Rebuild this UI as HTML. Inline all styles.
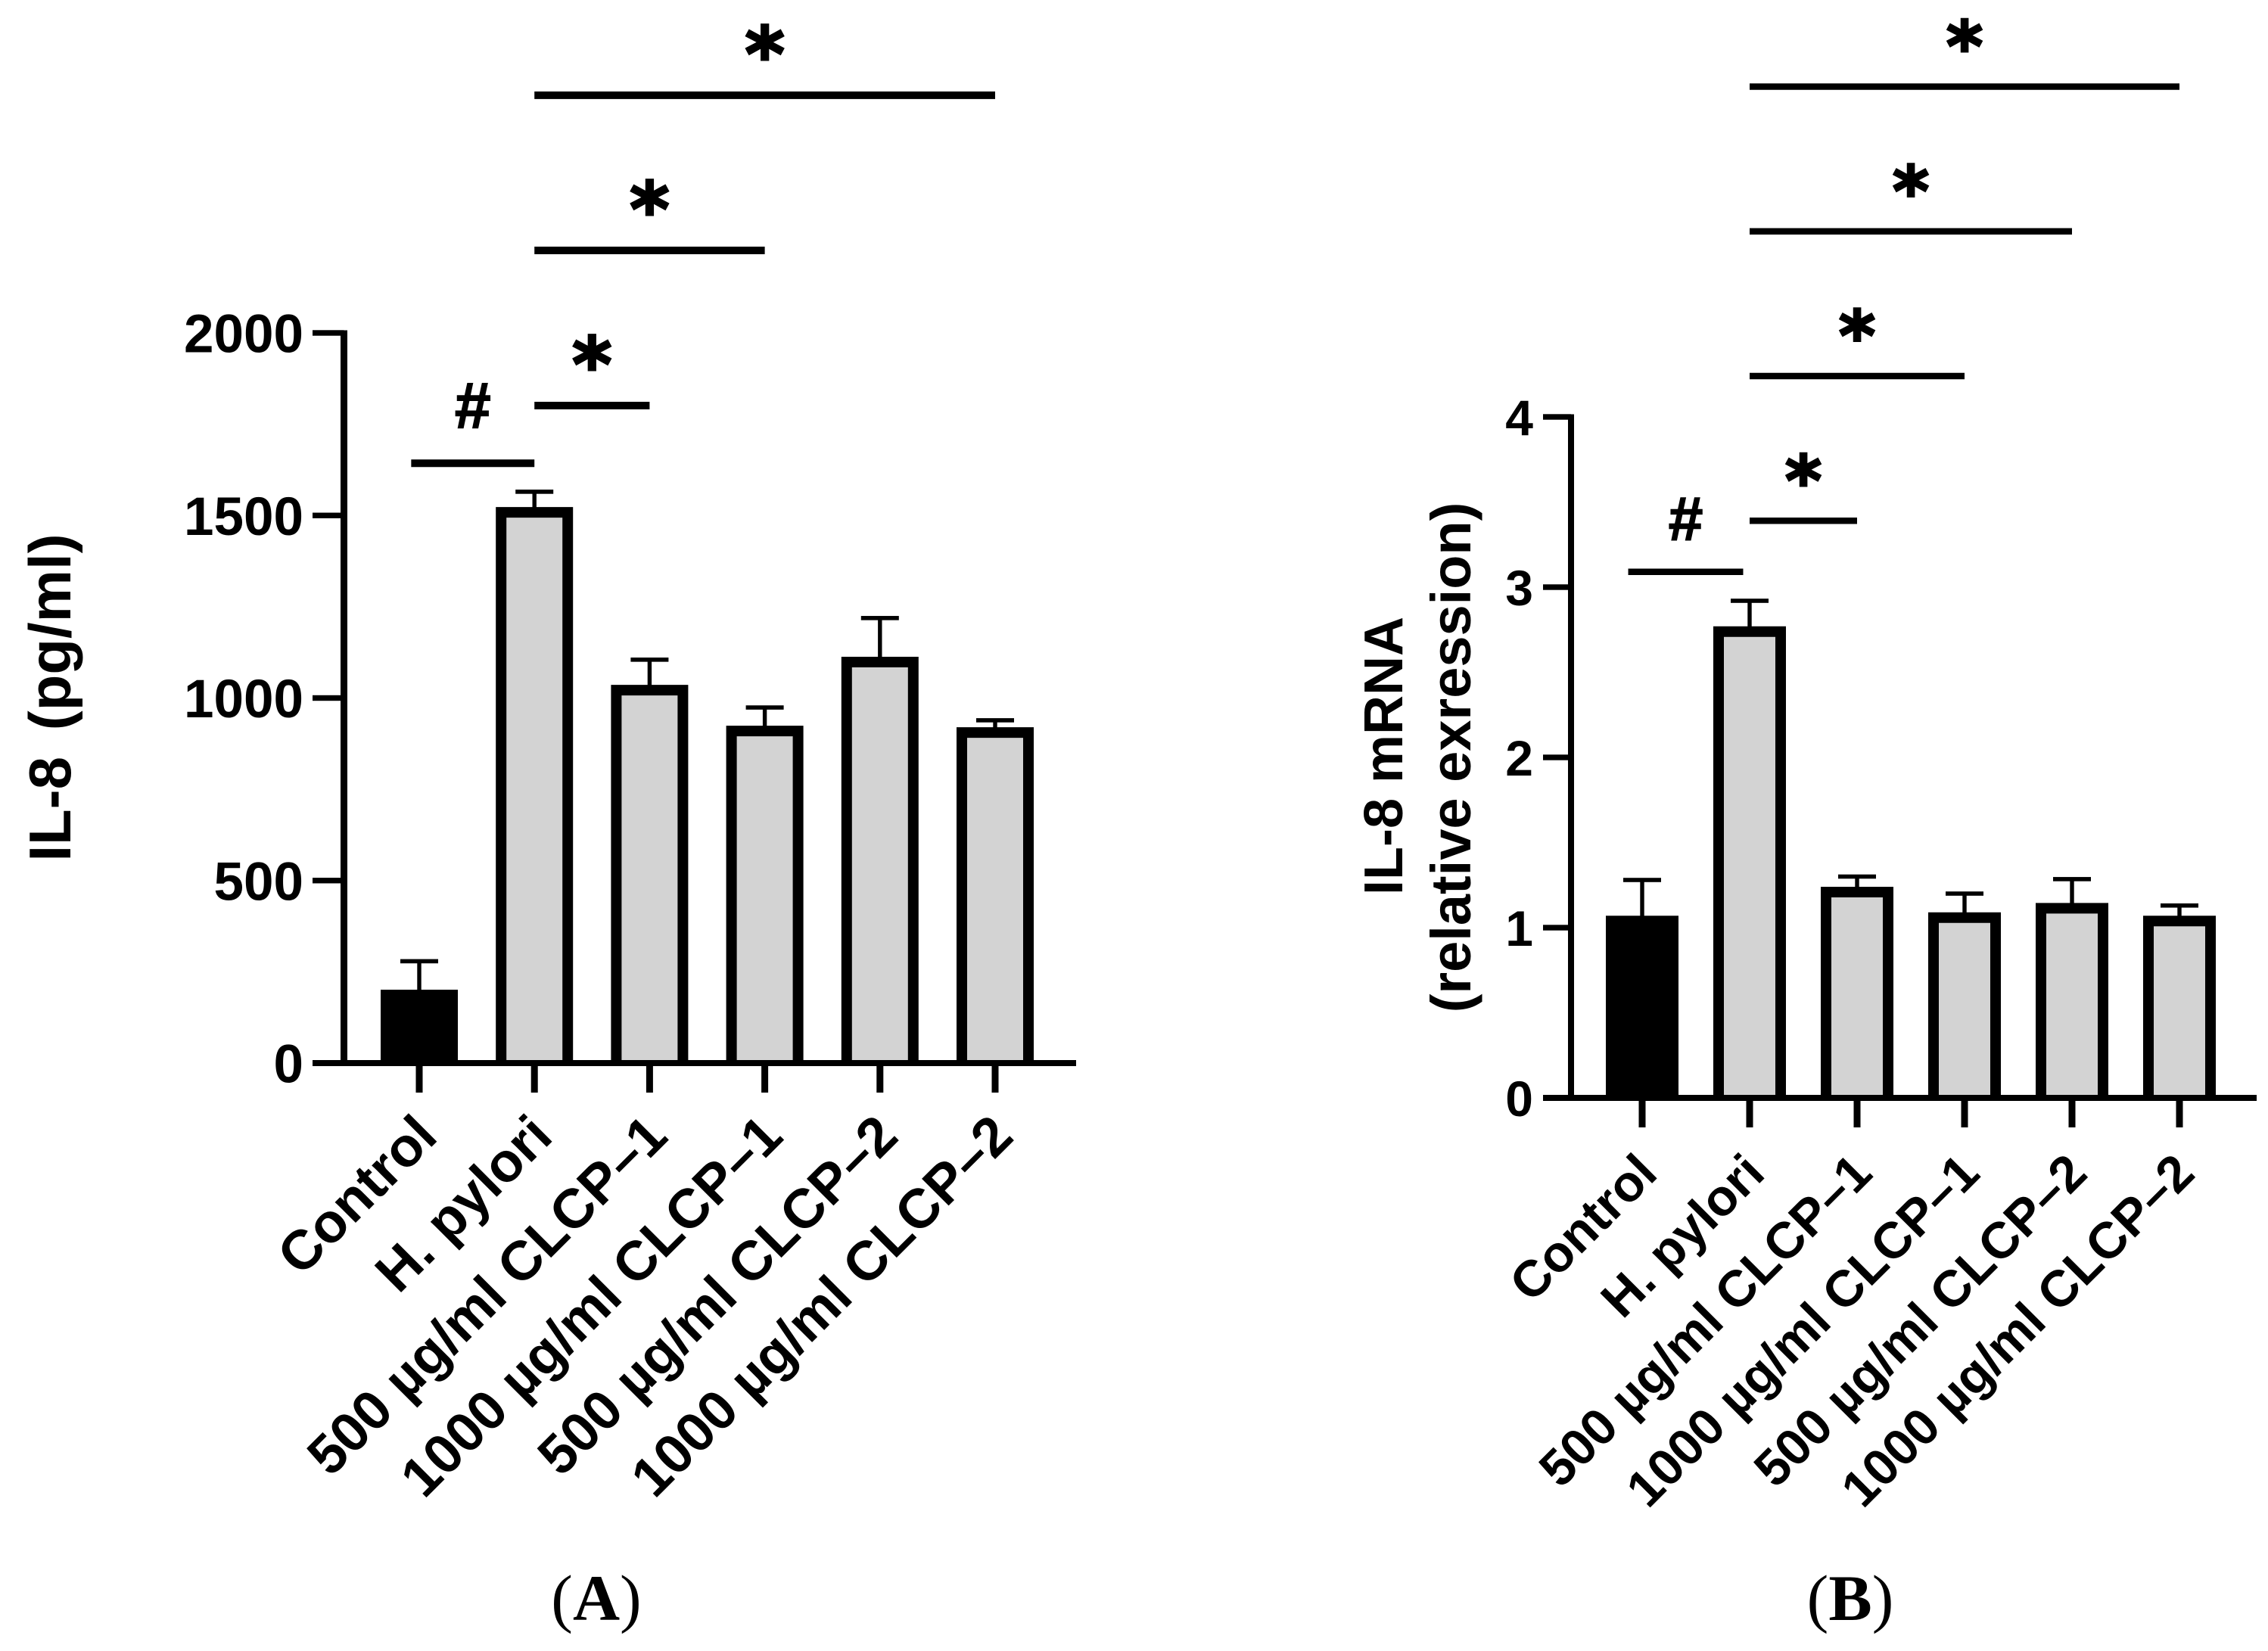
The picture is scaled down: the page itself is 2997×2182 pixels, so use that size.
<!DOCTYPE html>
<html lang="en">
<head>
<meta charset="utf-8">
<title>IL-8 protein and mRNA bar charts</title>
<style>
html,body{margin:0;padding:0;background:#fff;}
svg{display:block;}
text{font-family:"Liberation Sans",sans-serif;font-weight:bold;fill:#000;}
.serif{font-family:"Liberation Serif",serif;font-weight:normal;}
</style>
</head>
<body>
<svg id="figure" xmlns="http://www.w3.org/2000/svg" width="2997" height="2182" viewBox="0 0 2997 2182">
  <rect x="0" y="0" width="2997" height="2182" fill="#ffffff"/>
  <text class="serif" x="788" y="2141" font-size="86" text-anchor="middle">(<tspan font-weight="bold">A</tspan>)</text>
  <text class="serif" x="2445" y="2141" font-size="86" text-anchor="middle">(<tspan font-weight="bold">B</tspan>)</text>
</svg>
<script>
var categories = ['Control', 'H. pylori', '500 µg/ml CLCP–1', '1000 µg/ml CLCP–1', '500 µg/ml CLCP–2', '1000 µg/ml CLCP–2'];

var valuesA = [201, 1523, 1036, 924, 1113, 920];
var errorTopsA = [279, 1565, 1105, 974, 1219, 939];
var ticksA = [0, 500, 1000, 1500, 2000];
var bracketFromA = [-0.07, 1, 1, 1];
var bracketToA = [1, 2, 3, 5];
var bracketLevelA = [1643, 1801, 2226, 2651];
var bracketMarkA = ['#', '*', '*', '*'];

var valuesB = [1.07, 2.77, 1.24, 1.09, 1.145, 1.07];
var errorTopsB = [1.28, 2.92, 1.30, 1.20, 1.285, 1.13];
var ticksB = [0, 1, 2, 3, 4];
var bracketFromB = [-0.13, 1, 1, 1, 1];
var bracketToB = [0.94, 2, 3, 4, 5];
var bracketLevelB = [3.09, 3.39, 4.24, 5.09, 5.94];
var bracketMarkB = ['#', '*', '*', '*', '*'];

var NS = 'http://www.w3.org/2000/svg';
var svg = document.getElementById('figure');

function make(tag, attrs, parent) {
  var node = document.createElementNS(NS, tag);
  for (var k in attrs) { node.setAttribute(k, attrs[k]); }
  parent.appendChild(node);
  return node;
}

function drawPanel(p) {
  var x = function (i) { return p.x0 + p.xStep * i; };
  var y = function (v) { return p.y0 - v * p.yScale; };

  var group = make('g', {}, svg);
  
  

  // error bars (behind bars)
  p.values.forEach(function (v, i) {
    var stem = make('rect', {x: x(i) - 2.7, y: y(p.errorTops[i]), width: 5.4, height: y(v) - y(p.errorTops[i]) + 4, fill: '#000'}, group);
    
    
    var cap = make('rect', {x: x(i) - 25, y: y(p.errorTops[i]) - 2.8, width: 50, height: 5.6, fill: '#000'}, group);
    
    
  });

  // bars: open-bottom outline so the fill meets the x axis
  p.values.forEach(function (v, i) {
    var b = p.border;
    var left = x(i) - p.barW / 2 + b / 2;
    var right = x(i) + p.barW / 2 - b / 2;
    var top = y(v) + b / 2;
    var bar = make('path', {
      d: 'M' + left + ' ' + p.y0 + ' V' + top + ' H' + right + ' V' + p.y0 + ' Z',
      fill: i === 0 ? '#000' : '#d3d3d3'
    }, group);
    
    
    var outline = make('path', {
      d: 'M' + left + ' ' + p.y0 + ' V' + top + ' H' + right + ' V' + p.y0,
      fill: 'none',
      stroke: '#000',
      'stroke-width': b
    }, group);
    
    
  });

  // y axis
  var yTop = y(p.ticks[p.ticks.length - 1]);
  var yAxis = make('rect', {x: p.axisX - p.axisW / 2, y: yTop - 3.5, width: p.axisW, height: p.y0 - yTop + 3.5, fill: '#000'}, group);
  
  

  p.ticks.forEach(function (t) {
    var tick = make('rect', {x: p.axisLeft, y: y(t) - 3.7, width: p.axisX - p.axisLeft, height: 7.4, fill: '#000'}, group);
    
    
    var label = make('text', {x: p.tickRight, y: y(t) + p.tickFont * 0.36, 'font-size': p.tickFont, 'text-anchor': 'end'}, group);
    label.textContent = String(t);
    
    
  });

  // x axis
  var xAxis = make('rect', {x: p.axisLeft, y: p.y0 - 4, width: p.axisRight - p.axisLeft, height: 8, fill: '#000'}, group);
  
  

  categories.forEach(function (c, i) {
    var tick = make('rect', {x: x(i) - 4.5, y: p.y0, width: 9, height: p.tickLen, fill: '#000'}, group);
    
    
    var lx = x(i) + p.labelDx;
    var label = make('text', {x: lx, y: p.labelY, 'font-size': p.labelFont, 'text-anchor': 'end', transform: 'rotate(-45 ' + lx + ' ' + p.labelY + ')'}, group);
    label.textContent = c;
    
    
  });

  // y axis title lines
  p.titles.forEach(function (t, i) {
    var title = make('text', {x: t.x, y: t.cy, 'font-size': t.size, 'text-anchor': 'middle', 'word-spacing': t.wordGap, transform: 'rotate(-90 ' + t.x + ' ' + t.cy + ')'}, group);
    title.textContent = t.text;
    
    
  });

  // significance brackets
  p.bracketLevel.forEach(function (lvl, i) {
    var x1 = x(p.bracketFrom[i]);
    var x2 = x(p.bracketTo[i]);
    var by = y(lvl);
    var line = make('rect', {x: x1, y: by - p.bracketH / 2, width: x2 - x1, height: p.bracketH, fill: '#000'}, group);
    
    
    var mark = p.bracketMark[i];
    var mx = (x1 + x2) / 2;
    var markEl;
    if (mark === '*') {
      markEl = make('text', {x: mx, y: by - p.starGap + p.starFont * 0.47, 'font-size': p.starFont, 'text-anchor': 'middle', stroke: '#000', 'stroke-width': 3, style: 'font-family:"DejaVu Sans",sans-serif;font-weight:bold'}, group);
    } else {
      markEl = make('text', {x: mx, y: by - p.hashGap + p.hashFont * 0.35, 'font-size': p.hashFont, 'text-anchor': 'middle', stroke: '#000', 'stroke-width': 1.5}, group);
    }
    markEl.textContent = mark;
    
    
  });
}

drawPanel({
  id: 'a', x0: 554, xStep: 152.2, y0: 1405, yScale: 0.4825,
  values: valuesA, errorTops: errorTopsA, ticks: ticksA,
  bracketFrom: bracketFromA, bracketTo: bracketToA, bracketLevel: bracketLevelA, bracketMark: bracketMarkA,
  barW: 102, border: 14, axisX: 454.5, axisW: 9, axisLeft: 413, axisRight: 1422,
  tickRight: 401, tickFont: 71, tickLen: 39, labelDx: 27, labelY: 1505, labelFont: 73,
  bracketH: 10, starGap: 66, starFont: 100, hashGap: 77, hashFont: 86,
  titles: [{text: 'IL-8 (pg/ml)', x: 93, cy: 922, size: 78, wordGap: 13}]
});

drawPanel({
  id: 'b', x0: 2170, xStep: 142, y0: 1451, yScale: 225,
  values: valuesB, errorTops: errorTopsB, ticks: ticksB,
  bracketFrom: bracketFromB, bracketTo: bracketToB, bracketLevel: bracketLevelB, bracketMark: bracketMarkB,
  barW: 96, border: 14, axisX: 2076, axisW: 8, axisLeft: 2039, axisRight: 2982,
  tickRight: 2026, tickFont: 66, tickLen: 39, labelDx: 23, labelY: 1554, labelFont: 67.5,
  bracketH: 8.5, starGap: 64, starFont: 92, hashGap: 71, hashFont: 82,
  titles: [
    {text: 'IL-8 mRNA', x: 1853, cy: 999, size: 72, wordGap: 0},
    {text: '(relative exression)', x: 1943, cy: 1001, size: 74, wordGap: 0}
  ]
});
</script>
</body>
</html>
